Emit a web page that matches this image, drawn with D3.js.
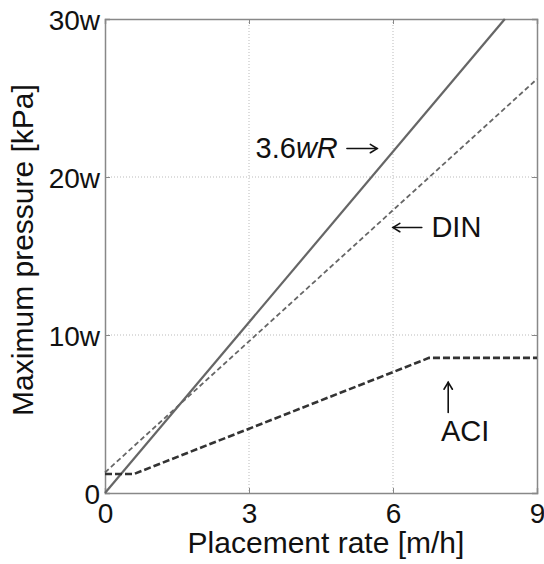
<!DOCTYPE html>
<html>
<head>
<meta charset="utf-8">
<script src="https://cdn.jsdelivr.net/npm/d3@7"></script>
<style>
  body { margin: 0; background: #fff; }
  text { font-family: "Liberation Sans", Arial, sans-serif; fill: #111; }
</style>
</head>
<body>
<div id="chart"></div>
<script>
// axis ticks
let xTicks = [0, 3, 6, 9];
let yTicks = [0, 10, 20, 30];
let yTickLabels = ["0", "10w", "20w", "30w"];

// series (placement rate in m/h, pressure in multiples of w)
let wrRate = [0, 8.33];
let wrPressure = [0, 30];
let dinRate = [0, 9];
let dinPressure = [1.3, 26.2];
let aciRate = [0, 0.6, 6.75, 9];
let aciPressure = [1.2, 1.2, 8.55, 8.55];

let width = 544,
    height = 564;
const margin = {top: 19, right: 7, bottom: 71, left: 105};
let w = width - margin.left - margin.right,
    h = height - margin.top - margin.bottom;

let svg = d3.select('#chart')
    .append("svg")
    .attr("width", width)
    .attr("height", height)
    .append("g")
    .attr("transform", `translate(${margin.left}, ${margin.top})`);

let x = d3.scaleLinear().domain([0, 9]).range([0, w]);
let y = d3.scaleLinear().domain([0, 30]).range([h, 0]);

// dotted grid
let grid = svg.append("g").attr("stroke", "#bbb").attr("stroke-width", 1)
    .attr("stroke-dasharray", "1,2");
grid.selectAll(".gx").data(xTicks.slice(1, -1)).enter().append("line")
    .attr("x1", d => x(d)).attr("x2", d => x(d))
    .attr("y1", 0).attr("y2", h);
grid.selectAll(".gy").data(yTicks.slice(1, -1)).enter().append("line")
    .attr("x1", 0).attr("x2", w)
    .attr("y1", d => y(d)).attr("y2", d => y(d));

// axes with inward ticks
let xAxis = svg.append("g").attr("transform", `translate(0, ${h})`)
    .call(d3.axisBottom(x).tickValues(xTicks).tickSize(-5).tickPadding(10).tickFormat(d3.format("d")));
let yAxis = svg.append("g")
    .call(d3.axisLeft(y).tickValues(yTicks).tickSize(-5).tickPadding(5).tickFormat((d, i) => yTickLabels[i]));
let xTop = svg.append("g")
    .call(d3.axisTop(x).tickValues(xTicks).tickSize(-5).tickFormat(""));
let yRight = svg.append("g").attr("transform", `translate(${w}, 0)`)
    .call(d3.axisRight(y).tickValues(yTicks).tickSize(-5).tickFormat(""));

[xAxis, yAxis, xTop, yRight].forEach(a => {
    a.selectAll("path.domain").attr("stroke", "#888").attr("stroke-width", 1.5);
    a.selectAll(".tick line").attr("stroke", "#888");
    a.selectAll("text").style("font-size", "28px").attr("fill", "#111")
        .style("font-family", '"Liberation Sans", Arial, sans-serif');
});
xAxis.selectAll("text").attr("dy", "0.71em").attr("y", 10);
yAxis.selectAll("text").attr("dy", "0.36em");

// lines
let line = d3.line().x(d => x(d[0])).y(d => y(d[1]));

svg.append("path")
    .datum(d3.zip(wrRate, wrPressure))
    .attr("d", line)
    .attr("fill", "none")
    .attr("stroke", "#666")
    .attr("stroke-width", 2.2);

svg.append("path")
    .datum(d3.zip(dinRate, dinPressure))
    .attr("d", line)
    .attr("fill", "none")
    .attr("stroke", "#666")
    .attr("stroke-width", 1.8)
    .attr("stroke-dasharray", "5,3");

svg.append("path")
    .datum(d3.zip(aciRate, aciPressure))
    .attr("d", line)
    .attr("fill", "none")
    .attr("stroke", "#333")
    .attr("stroke-width", 2.6)
    .attr("stroke-dasharray", "7,3");

// annotation arrows (drawn as thin lines with open heads)
function arrow(x1, y1, x2, y2) {
    let px1 = x(x1), py1 = y(y1), px2 = x(x2), py2 = y(y2);
    let ang = Math.atan2(py2 - py1, px2 - px1);
    let s = 8, spread = 0.55;
    let g = svg.append("g").attr("stroke", "#111").attr("stroke-width", 1.6)
        .attr("fill", "none").attr("stroke-linecap", "round");
    g.append("line").attr("x1", px1).attr("y1", py1).attr("x2", px2).attr("y2", py2);
    g.append("path").attr("d",
        `M${px2 - s * Math.cos(ang - spread)},${py2 - s * Math.sin(ang - spread)}` +
        `L${px2},${py2}` +
        `L${px2 - s * Math.cos(ang + spread)},${py2 - s * Math.sin(ang + spread)}`);
}

let wrLabel = svg.append("text")
    .attr("x", x(4.85))
    .attr("y", y(21.2))
    .attr("text-anchor", "end")
    .style("font-size", "29px");
wrLabel.append("tspan").text("3.6");
wrLabel.append("tspan").style("font-style", "italic").text("wR");
arrow(5.04, 21.8, 5.67, 21.8);

arrow(6.6, 16.8, 6.0, 16.8);
svg.append("text")
    .attr("x", x(6.8)).attr("y", y(16.2))
    .style("font-size", "29px")
    .text("DIN");

arrow(7.15, 5.1, 7.15, 7.0);
svg.append("text")
    .attr("x", x(7.0)).attr("y", y(3.3))
    .style("font-size", "29px")
    .text("ACI");

// axis titles
svg.append("text")
    .attr("transform", `translate(${w / 2 + 5}, ${h + 60})`)
    .style("text-anchor", "middle")
    .style("font-size", "30px")
    .text("Placement rate [m/h]");

svg.append("text")
    .attr("transform", `translate(-72, ${h / 2 - 6}) rotate(270)`)
    .style("text-anchor", "middle")
    .style("font-size", "30px")
    .text("Maximum pressure [kPa]");
</script>
</body>
</html>
